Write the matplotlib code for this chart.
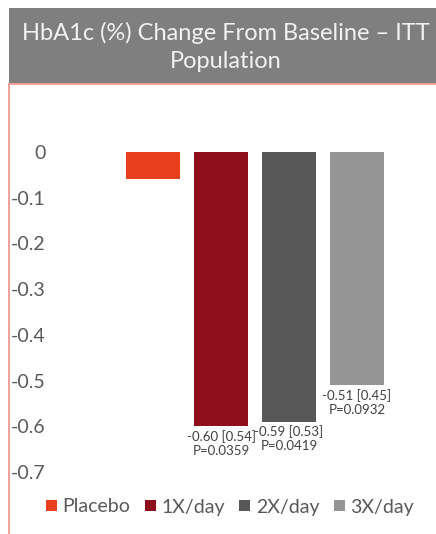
import matplotlib.pyplot as plt
from matplotlib.patches import Rectangle
from matplotlib.lines import Line2D

plt.rcParams['font.family'] = ['Lato', 'DejaVu Sans']

# data
groups = ["Placebo", "1X/day", "2X/day", "3X/day"]
values = [-0.06, -0.60, -0.59, -0.51]
bar_labels = ["", "-0.60 [0.54]\nP=0.0359", "-0.59 [0.53]\nP=0.0419", "-0.51 [0.45]\nP=0.0932"]
colors = ["#E8401F", "#8E0E1C", "#575757", "#959595"]
yticks = [0, -0.1, -0.2, -0.3, -0.4, -0.5, -0.6, -0.7]
ytick_labels = ["0", "-0.1", "-0.2", "-0.3", "-0.4", "-0.5", "-0.6", "-0.7"]
title = "HbA1c (%) Change From Baseline \u2013 ITT\nPopulation"

W, H = 436, 534
fig = plt.figure(figsize=(W / 100, H / 100), dpi=100)
fig.patch.set_facecolor("white")

# title box and red panel border
fig.patches.append(Rectangle((9 / W, 1 - 84 / H), 1 - 9 / W, 76 / H, transform=fig.transFigure,
                             facecolor="#7F7F7F", edgecolor="none", zorder=0))
fig.add_artist(Line2D([9 / W, 9 / W], [0, 1 - 84 / H], color="#F4A096", lw=1.4, transform=fig.transFigure))
fig.add_artist(Line2D([9 / W, 1], [1 - 84 / H, 1 - 84 / H], color="#F4A096", lw=1.4, transform=fig.transFigure))
fig.text(226 / W, 1 - 47 / H, title, ha="center", va="center", color="#F2F2F2", fontsize=17,
         linespacing=1.38)

# axes: 0 at y=152px, -0.7 at y=472px
ax_left, ax_right = 61, 430
ax = fig.add_axes([ax_left / W, 1 - 472 / H, (ax_right - ax_left) / W, (472 - 152) / H])
x = list(range(len(groups)))
bars = ax.bar(x, values, width=0.79, color=colors, label=groups, zorder=2)
ax.set_ylim(-0.7, 0)
# bar 0 centre at 153px, 68px between centres
ax.set_xlim((ax_left - 153) / 68, (ax_right - 153) / 68)
for b in bars:
    b.set_clip_on(False)

for xi, v, lab in zip(x, values, bar_labels):
    if lab:
        ax.annotate(lab, (xi, v), xytext=(0, -2.5), textcoords="offset points", ha="center", va="top",
                    fontsize=9.5, color="#404040", linespacing=1.2)

ax.set_yticks(yticks)
ax.set_yticklabels(ytick_labels)
ax.set_xticks([])
ax.tick_params(axis="y", length=0, pad=11, labelsize=14, labelcolor="#595959")
for s in ax.spines.values():
    s.set_visible(False)
ax.patch.set_alpha(0)

leg = fig.legend(handles=bars, labels=groups, loc="center", bbox_to_anchor=(230 / W, 1 - 507 / H), ncol=4,
                 frameon=False, fontsize=14, handlelength=0.55, handleheight=0.55, handletextpad=0.3,
                 columnspacing=0.75, borderaxespad=0)
for t in leg.get_texts():
    t.set_color("#595959")

fig.savefig("out.png", dpi=100)
